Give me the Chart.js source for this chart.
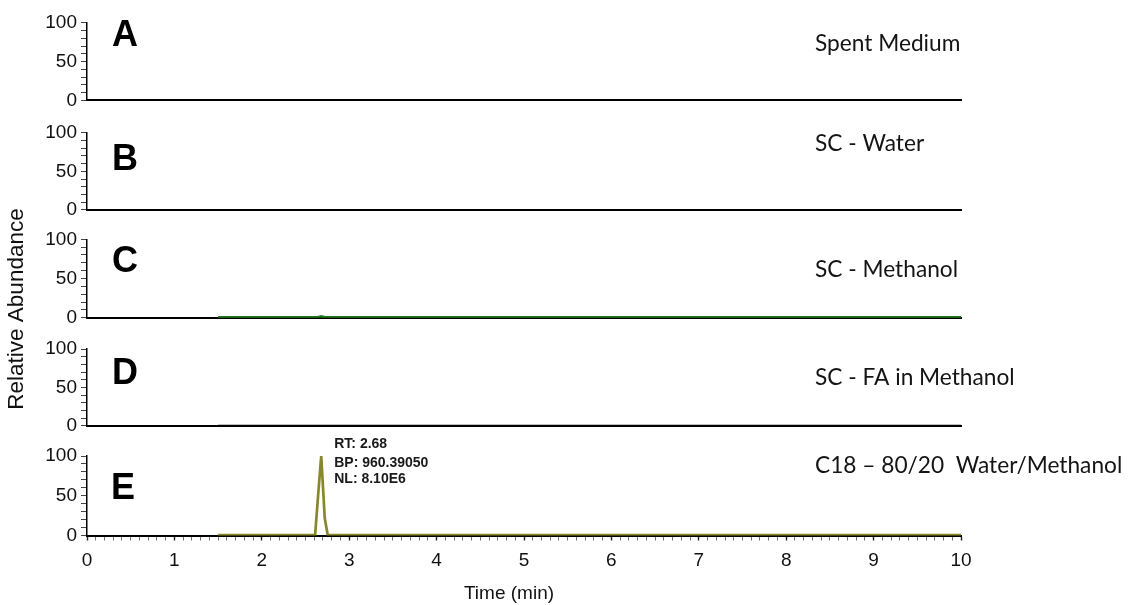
<!DOCTYPE html>
<html>
<head>
<meta charset="utf-8">
<script src="https://cdn.jsdelivr.net/npm/chart.js@4.4.1/dist/chart.umd.min.js"></script>
<style>
  html, body { margin: 0; padding: 0; background: #fff; }
  #stage { position: relative; width: 1129px; height: 605px; overflow: hidden; background: #fff; }
  #stage canvas { position: absolute; left: 0; top: 0; }
</style>
</head>
<body>
<div id="stage"></div>
<script>
// ---- Chromatogram data: retention time (min) vs. relative abundance (%) ----
const panelLetters = ['A', 'B', 'C', 'D', 'E'];
const panelNames = ['Spent Medium', 'SC - Water', 'SC - Methanol', 'SC - FA in Methanol', 'C18 \u2013 80/20  Water/Methanol'];

const timeA  = [1.5, 10];
const abundA = [0, 0];

const timeB  = [1.5, 10];
const abundB = [0, 0];

const timeC  = [1.5, 2.0, 2.5, 2.64, 2.68, 2.72, 3.0, 4.0, 6.0, 8.0, 10];
const abundC = [0.4, 0.4, 0.4, 0.6, 1.8, 0.6, 0.4, 0.4, 0.4, 0.4, 0.4];

const timeD  = [1.5, 10];
const abundD = [0, 0];

const timeE  = [1.5, 2.0, 2.61, 2.646, 2.68, 2.72, 2.754, 3.0, 5.0, 7.5, 10];
const abundE = [0.6, 0.6, 0.6, 53, 100, 22, 0.6, 0.6, 0.6, 0.6, 0.6];

// base peak annotation for trace E
const peakRT = 2.68;
const peakBP = '960.39050';
const peakNL = '8.10E6';

const xTickLabels = [0, 1, 2, 3, 4, 5, 6, 7, 8, 9, 10];
const yTickLabels = [0, 50, 100];
const xAxisTitle = 'Time (min)';
const yAxisTitle = 'Relative Abundance';

// ---- layout and styling ----
const W = 1129, H = 605;
const plotLeft = 87, plotRight = 961;
const panelTop    = [22.7, 132.7, 239.3, 349, 456];
const panelBottom = [100.5, 210, 317.7, 425.7, 535.5];
const letterX    = [112, 112, 112, 112, 111];
const letterBase = [45.5, 170, 272, 384, 499];
const nameX = 815;
const nameBase = [51, 151, 277, 385, 473];
const traceColors = ['#000000', '#000000', '#1f7a1f', '#000000', '#87872c'];
const traceWidths = [2, 2, 2.7, 2, 2.7];

const SANS = '"Liberation Sans", Arial, sans-serif';

const traces = [
  [timeA, abundA], [timeB, abundB], [timeC, abundC], [timeD, abundD], [timeE, abundE]
];

const isWhole = v => Math.abs(v - Math.round(v)) < 1e-6;

const decor = {
  id: 'decor',
  afterDraw(chart, args, opts) {
    const i = opts.index;
    const ctx = chart.ctx;
    ctx.save();
    ctx.textAlign = 'left';
    ctx.textBaseline = 'alphabetic';
    ctx.fillStyle = '#000';
    ctx.font = 'bold 36px ' + SANS;
    ctx.fillText(panelLetters[i], letterX[i], letterBase[i]);
    ctx.fillStyle = '#141414';
    ctx.font = '22.7px Lato, "Open Sans", sans-serif';
    ctx.fillText(panelNames[i], nameX, nameBase[i]);

    if (i === panelLetters.length - 1) {
      // peak annotation, anchored to the apex retention time
      const xs = chart.scales.x;
      const ax = xs.getPixelForValue(peakRT) + 13;
      ctx.fillStyle = '#1a1a1a';
      ctx.font = 'bold 14px ' + SANS;
      ctx.fillText('RT: ' + peakRT.toFixed(2), ax, 448);
      ctx.fillText('BP: ' + peakBP, ax, 467);
      ctx.fillText('NL: ' + peakNL, ax, 483);

      // shared axis titles
      ctx.fillStyle = '#111';
      ctx.font = '19px ' + SANS;
      ctx.textAlign = 'center';
      ctx.fillText(xAxisTitle, 509, 599);

      ctx.translate(17, 309);
      ctx.rotate(-Math.PI / 2);
      ctx.textBaseline = 'middle';
      ctx.font = '22.5px ' + SANS;
      ctx.fillText(yAxisTitle, 0, 0);
    }
    ctx.restore();
  }
};

const stage = document.getElementById('stage');

panelLetters.forEach((letter, i) => {
  const canvas = document.createElement('canvas');
  canvas.width = W;
  canvas.height = H;
  canvas.style.width = W + 'px';
  canvas.style.height = H + 'px';
  stage.appendChild(canvas);

  const last = i === panelLetters.length - 1;
  const xh = last ? H - panelBottom[i] : 0;
  const [tArr, aArr] = traces[i];

  new Chart(canvas, {
    type: 'line',
    data: {
      datasets: [{
        data: tArr.map((t, k) => ({ x: t, y: aArr[k] })),
        borderColor: traceColors[i],
        borderWidth: traceWidths[i],
        pointRadius: 0,
        tension: 0,
        fill: false
      }]
    },
    options: {
      responsive: false,
      animation: false,
      devicePixelRatio: 1,
      layout: {
        padding: { top: panelTop[i], left: 0, right: W - plotRight, bottom: last ? 0 : H - panelBottom[i] }
      },
      plugins: {
        legend: { display: false },
        tooltip: { enabled: false },
        decor: { index: i }
      },
      scales: {
        x: {
          type: 'linear',
          min: 0,
          max: 10,
          afterFit: s => { s.height = xh; },
          border: { display: true, color: '#000', width: 2 },
          grid: {
            drawOnChartArea: false,
            drawTicks: last,
            tickLength: 5,
            tickColor: c => (c.tick && isWhole(c.tick.value)) ? '#222' : '#777',
            tickWidth: c => (c.tick && isWhole(c.tick.value)) ? 1.4 : 1
          },
          ticks: {
            display: last,
            stepSize: 0.1,
            autoSkip: false,
            maxRotation: 0,
            minRotation: 0,
            padding: 9,
            color: '#111',
            font: { family: SANS, size: 19 },
            callback: v => (isWhole(v) && xTickLabels.includes(Math.round(v))) ? String(Math.round(v)) : ''
          }
        },
        y: {
          type: 'linear',
          min: 0,
          max: 100,
          afterFit: s => { s.width = plotLeft; },
          border: { display: true, color: '#000', width: 1.5 },
          grid: {
            drawOnChartArea: false,
            drawTicks: true,
            tickLength: 6,
            tickColor: '#444',
            tickWidth: 1
          },
          ticks: {
            stepSize: 10,
            autoSkip: false,
            padding: 4,
            color: '#111',
            font: { family: SANS, size: 19 },
            callback: v => yTickLabels.includes(v) ? String(v) : ''
          }
        }
      }
    },
    plugins: [decor]
  });
});
</script>
</body>
</html>
